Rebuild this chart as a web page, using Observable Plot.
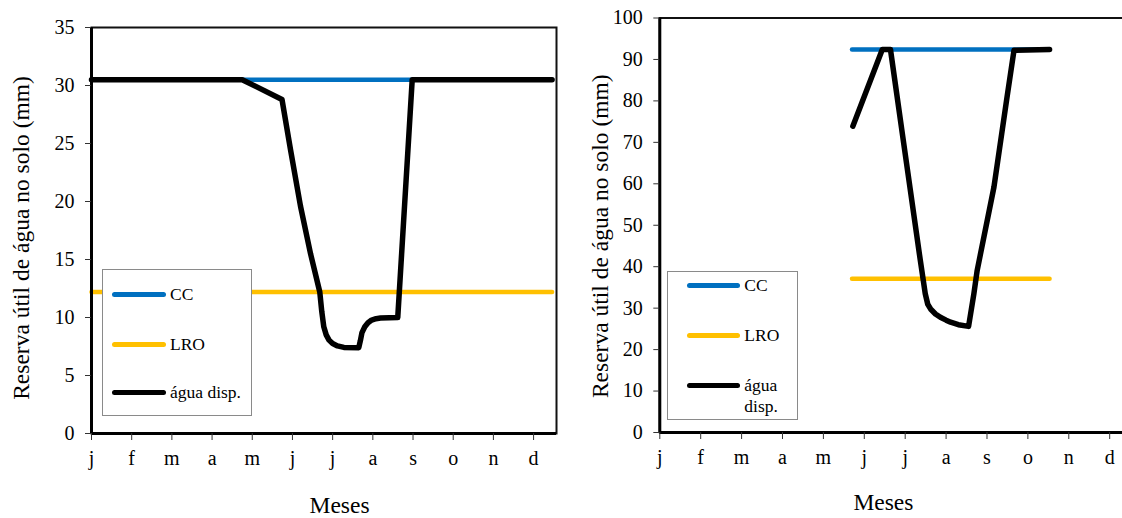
<!DOCTYPE html>
<html>
<head>
<meta charset="utf-8">
<script src="https://cdn.jsdelivr.net/npm/d3@7"></script>
<script src="https://cdn.jsdelivr.net/npm/@observablehq/plot@0.6"></script>
<style>
  html, body { margin: 0; padding: 0; background: #fff; overflow: hidden; }
  #wrap { position: relative; width: 1122px; height: 518px; overflow: hidden; font-family: "Liberation Serif", "Times New Roman", serif; }
  .panel { position: absolute; top: 0; }
  .legend { position: absolute; border: 1px solid #8a8a8a; background: #fff; box-sizing: border-box; }
  .legend .sw { position: absolute; height: 5px; border-radius: 3px; }
  .legend .lb { position: absolute; font-size: 17.5px; line-height: 21px; color: #000; }
</style>
</head>
<body>
<div id="wrap"></div>
<script>
// ---------- data ----------
const months = ["j", "f", "m", "a", "m", "j", "j", "a", "s", "o", "n", "d"];
const seriesNames = ["CC", "LRO", "água disp."];
const seriesColors = ["#0070C0", "#FFC000", "#000000"];
const yTitle = "Reserva útil de água no solo (mm)";
const xTitle = "Meses";

// left panel (month index, mm)
const leftCCx = [0, 11.46];
const leftCCy = [30.5, 30.5];
const leftLROx = [0, 11.46];
const leftLROy = [12.2, 12.2];
const leftAguaX = [0, 3.75, 4.74, 4.95, 5.2, 5.45, 5.68, 5.73, 5.78, 5.84, 5.91, 6.0, 6.12, 6.28, 6.65, 6.69, 6.73, 6.8, 6.88, 6.97, 7.08, 7.19, 7.62, 7.98, 11.46];
const leftAguaY = [30.5, 30.5, 28.8, 24.5, 19.6, 15.5, 12.2, 10.5, 9.2, 8.5, 8.05, 7.75, 7.55, 7.42, 7.4, 8.0, 8.7, 9.2, 9.55, 9.78, 9.9, 9.95, 10.0, 30.5, 30.5];
const leftYTicks = [0, 5, 10, 15, 20, 25, 30, 35];

// right panel (month index, mm)
const rightCCx = [4.70, 9.53];
const rightCCy = [92.4, 92.4];
const rightLROx = [4.70, 9.53];
const rightLROy = [37.1, 37.1];
const rightAguaX = [4.72, 5.44, 5.64, 5.93, 6.37, 6.49, 6.55, 6.62, 6.74, 6.86, 7.0, 7.11, 7.3, 7.55, 7.68, 7.76, 8.17, 8.49, 8.66, 9.53];
const rightAguaY = [73.9, 92.4, 92.4, 72.1, 41.5, 33.5, 31.0, 29.8, 28.6, 27.8, 27.1, 26.6, 26.0, 25.6, 33.5, 39.1, 59.2, 80.9, 92.2, 92.4];
const rightYTicks = [0, 10, 20, 30, 40, 50, 60, 70, 80, 90, 100];

const xMax = 11.57;

function rows(xs, ys) { return xs.map((x, i) => ({x, y: ys[i]})); }

function panel(cfg) {
  const series = [
    rows(cfg.ccX, cfg.ccY),
    rows(cfg.lroX, cfg.lroY),
    rows(cfg.aguaX, cfg.aguaY)
  ];
  const widths = [4.5, 4.5, 5.5];
  return Plot.plot({
    width: cfg.width, height: 518,
    marginLeft: cfg.ml, marginRight: cfg.mr, marginTop: cfg.mt, marginBottom: cfg.mb,
    x: {domain: [0, xMax]},
    y: {domain: cfg.yDomain},
    style: {fontFamily: "'Liberation Serif', 'Times New Roman', serif", fontSize: "20px", color: "#000", background: "transparent", overflow: "visible"},
    marks: [
      Plot.frame({stroke: "#111", strokeWidth: 2}),
      ...series.map((d, i) => Plot.line(d, {x: "x", y: "y", stroke: seriesColors[i], strokeWidth: widths[i], strokeLinecap: "round", strokeLinejoin: "round"})),
      Plot.ruleX([0], {stroke: "#000", strokeWidth: 3}),
      Plot.ruleY([cfg.yDomain[0]], {stroke: "#000", strokeWidth: 3}),
      Plot.axisX({ticks: d3.range(months.length), tickFormat: i => months[i], tickSize: 7, tickPadding: 10, label: null, stroke: "#333"}),
      Plot.axisY({ticks: cfg.yTicks, tickSize: 6, tickPadding: 11, label: null, stroke: "#333"}),
      Plot.text([xTitle], {frameAnchor: "bottom", dx: cfg.xtDx, dy: cfg.xtDy, lineAnchor: "middle", fontSize: 23.5, fill: "#000"}),
      Plot.text([yTitle], {frameAnchor: "left", rotate: -90, dx: cfg.ytDx, dy: cfg.ytDy, lineAnchor: "middle", textAnchor: "middle", fontSize: 23.5, fill: "#000"})
    ]
  });
}

function legend(parent, box) {
  const el = document.createElement("div");
  el.className = "legend";
  Object.assign(el.style, {left: box.left + "px", top: box.top + "px", width: box.w + "px", height: box.h + "px"});
  seriesNames.forEach((name, i) => {
    const sw = document.createElement("div");
    sw.className = "sw";
    Object.assign(sw.style, {left: box.swX + "px", top: (box.rows[i] - 2.5) + "px", width: box.swW + "px", background: seriesColors[i]});
    el.appendChild(sw);
    const lb = document.createElement("div");
    lb.className = "lb";
    Object.assign(lb.style, {left: box.txX + "px", top: (box.rows[i] - 10.5) + "px", width: box.txW + "px"});
    lb.textContent = name;
    el.appendChild(lb);
  });
  parent.appendChild(el);
}

const wrap = document.getElementById("wrap");

const left = panel({
  width: 575, ml: 91, mr: 19, mt: 27, mb: 85,
  yDomain: [0, 35], yTicks: leftYTicks,
  ccX: leftCCx, ccY: leftCCy, lroX: leftLROx, lroY: leftLROy, aguaX: leftAguaX, aguaY: leftAguaY,
  xtDx: 15.5, xtDy: 72, ytDx: -70, ytDy: 7.5
});
left.classList.add("panel");
left.style.left = "0px";
wrap.appendChild(left);

const right = panel({
  width: 575, ml: 84.3, mr: 17.5, mt: 17.5, mb: 86,
  yDomain: [0, 100], yTicks: rightYTicks,
  ccX: rightCCx, ccY: rightCCy, lroX: rightLROx, lroY: rightLROy, aguaX: rightAguaX, aguaY: rightAguaY,
  xtDx: -13, xtDy: 70, ytDx: -59.3, ytDy: 11
});
right.classList.add("panel");
right.style.left = "575px";
wrap.appendChild(right);

legend(wrap, {left: 101.7, top: 269.3, w: 150, h: 147, swX: 9.3, swW: 54, txX: 67.3, txW: 80, rows: [24.7, 74, 122.4]});
legend(wrap, {left: 666.7, top: 270.7, w: 131, h: 149.3, swX: 19.3, swW: 53, txX: 76.6, txW: 50, rows: [14.3, 64.3, 114.3]});
</script>
</body>
</html>
